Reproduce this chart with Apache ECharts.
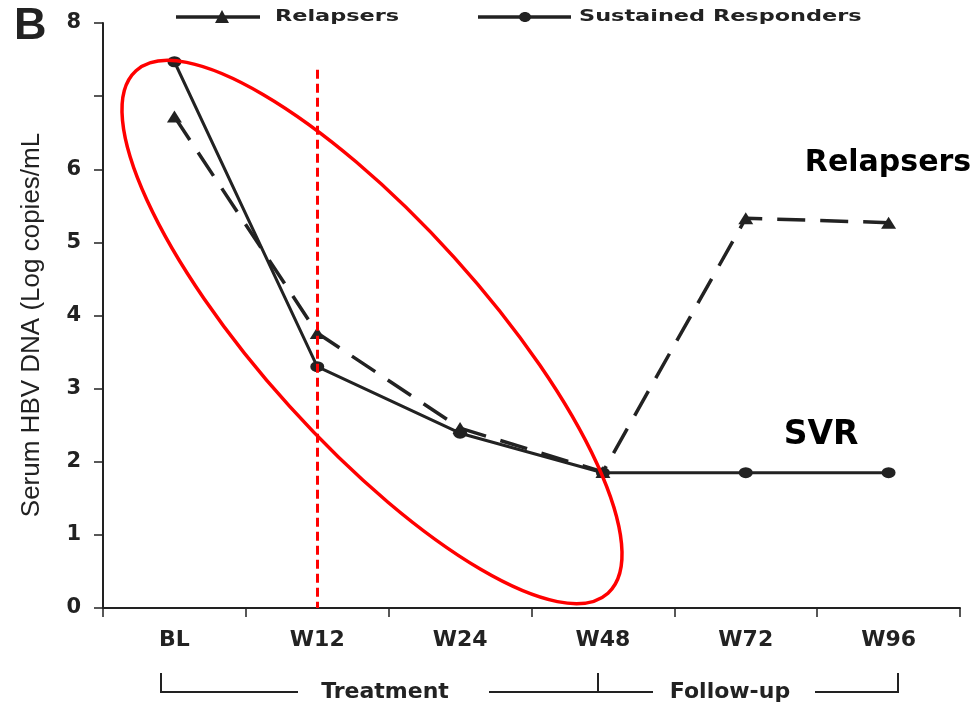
<!DOCTYPE html>
<html>
<head>
<meta charset="utf-8">
<script src="https://cdn.jsdelivr.net/npm/echarts@6/dist/echarts.min.js"></script>
<style>
  html, body { margin: 0; padding: 0; background: #fff; }
  #chart { width: 979px; height: 706px; }
</style>
</head>
<body>
<div id="chart"></div>
<script>
// Serum HBV DNA over time, relapsers vs sustained responders
const categories = ['BL', 'W12', 'W24', 'W48', 'W72', 'W96'];
const relapsers = [6.72, 3.76, 2.46, 1.86, 5.33, 5.27];
const sustainedResponders = [7.47, 3.30, 2.39, 1.85, 1.85, 1.85];
const yTickLabels = ['0', '1', '2', '3', '4', '5', '6', '', '8'];
const treatmentEndWeek = 'W12';

const INK = '#222222';
const RED = '#ff0000';
const LABEL_FONT = '"DejaVu Sans", sans-serif';

const chart = echarts.init(document.getElementById('chart'), null, { renderer: 'canvas' });

const option = {
  animation: false,
  backgroundColor: '#ffffff',
  grid: { left: 103, right: 19, top: 23, bottom: 98, containLabel: false },
  xAxis: {
    type: 'category',
    data: categories,
    boundaryGap: true,
    axisLine: { show: true, lineStyle: { color: INK, width: 2 } },
    axisTick: { show: true, length: 9, alignWithLabel: false, interval: 0, lineStyle: { color: INK, width: 1.5 } },
    axisLabel: { color: INK, fontFamily: LABEL_FONT, fontWeight: 'bold', fontSize: 22, margin: 21 },
    splitLine: { show: false }
  },
  yAxis: {
    type: 'value',
    min: 0, max: 8, interval: 1,
    axisLine: { show: true, lineStyle: { color: INK, width: 2 } },
    axisTick: { show: true, length: 9, lineStyle: { color: INK, width: 1.5 } },
    axisLabel: {
      color: INK, fontFamily: LABEL_FONT, fontWeight: 'bold', fontSize: 21, margin: 22,
      formatter: function (v) { return yTickLabels[Math.round(v)]; }
    },
    splitLine: { show: false }
  },
  series: [
    {
      name: 'Relapsers',
      type: 'line',
      data: relapsers,
      symbol: 'triangle',
      symbolSize: [15, 12],
      itemStyle: { color: INK },
      lineStyle: { color: INK, width: 3.5, type: [28, 15] },
      z: 3
    },
    {
      name: 'Sustained Responders',
      type: 'line',
      data: sustainedResponders,
      symbol: 'circle',
      symbolSize: [14, 11],
      itemStyle: { color: INK },
      lineStyle: { color: INK, width: 3, type: 'solid' },
      z: 4,
      markLine: {
        silent: true,
        symbol: 'none',
        label: { show: false },
        lineStyle: { color: RED, width: 3, type: [9, 5] },
        data: [[{ coord: [treatmentEndWeek, 7.36] }, { coord: [treatmentEndWeek, 0] }]]
      }
    }
  ]
};

chart.setOption(option);

// Annotations: legend, axis title, panel letter, curve labels, highlight ellipse, phase brackets
function legendItem(x0, x1, markX, text, textX, symbol) {
  const y = 17;
  const items = [
    { type: 'line', shape: { x1: x0, y1: y, x2: x1, y2: y }, style: { stroke: INK, lineWidth: 3.5 } }
  ];
  if (symbol === 'triangle') {
    items.push({ type: 'polygon', shape: { points: [[markX - 7, y + 6], [markX + 7, y + 6], [markX, y - 7]] }, style: { fill: INK } });
  } else {
    items.push({ type: 'ellipse', shape: { cx: markX, cy: y, rx: 6, ry: 5 }, style: { fill: INK } });
  }
  items.push({
    type: 'text', x: textX, y: y, scaleX: 1.4,
    style: { text: text, fill: INK, font: 'bold 16px ' + LABEL_FONT, align: 'left', verticalAlign: 'middle' }
  });
  return items;
}

const ellipseCenter = [372, 332];
const graphics = [].concat(
  legendItem(176, 260, 222, 'Relapsers', 275, 'triangle'),
  legendItem(478, 571, 525, 'Sustained Responders', 579, 'circle'),
  [
    {
      type: 'text', x: 14, y: 27,
      style: { text: 'B', fill: INK, font: 'bold 45px "Liberation Sans", Arial, sans-serif', align: 'left', verticalAlign: 'middle' }
    },
    {
      type: 'text', x: 32, y: 325, rotation: Math.PI / 2,
      style: { text: 'Serum HBV DNA (Log copies/mL', fill: INK, font: '26px "Liberation Sans", Arial, sans-serif', align: 'center', verticalAlign: 'middle' }
    },
    {
      type: 'text', x: 888, y: 163,
      style: { text: 'Relapsers', fill: '#000', font: 'bold 30px ' + LABEL_FONT, align: 'center', verticalAlign: 'middle' }
    },
    {
      type: 'text', x: 821, y: 435,
      style: { text: 'SVR', fill: '#000', font: 'bold 33px ' + LABEL_FONT, align: 'center', verticalAlign: 'middle' }
    },
    {
      type: 'ellipse', x: ellipseCenter[0], y: ellipseCenter[1], rotation: -47.9 * Math.PI / 180,
      shape: { cx: 0, cy: 0, rx: 352, ry: 111 },
      style: { fill: 'none', stroke: RED, lineWidth: 3.5 }, z: 100
    },
    { type: 'polyline', shape: { points: [[161, 673], [161, 692], [298, 692]] }, style: { stroke: INK, lineWidth: 2, fill: 'none' } },
    { type: 'polyline', shape: { points: [[489, 692], [653, 692]] }, style: { stroke: INK, lineWidth: 2, fill: 'none' } },
    { type: 'line', shape: { x1: 598, y1: 673, x2: 598, y2: 692 }, style: { stroke: INK, lineWidth: 2 } },
    { type: 'polyline', shape: { points: [[815, 692], [898, 692], [898, 673]] }, style: { stroke: INK, lineWidth: 2, fill: 'none' } },
    {
      type: 'text', x: 385, y: 692,
      style: { text: 'Treatment', fill: INK, font: 'bold 22px ' + LABEL_FONT, align: 'center', verticalAlign: 'middle' }
    },
    {
      type: 'text', x: 730, y: 692,
      style: { text: 'Follow-up', fill: INK, font: 'bold 22px ' + LABEL_FONT, align: 'center', verticalAlign: 'middle' }
    }
  ]
);

chart.setOption({ graphic: graphics });
</script>
</body>
</html>
